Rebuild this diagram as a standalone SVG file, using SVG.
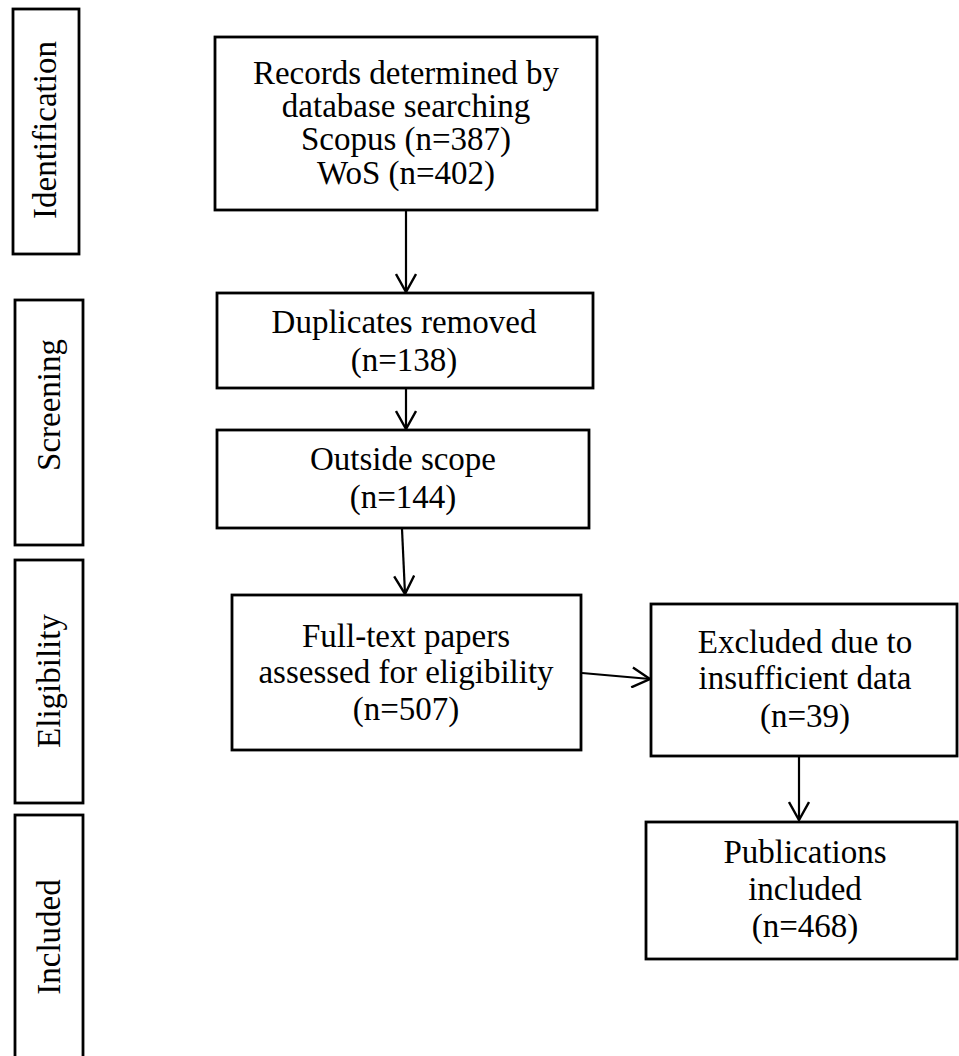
<svg xmlns="http://www.w3.org/2000/svg" width="959" height="1056" viewBox="0 0 959 1056">
<style>
.box{fill:#fff;stroke:#000;stroke-width:2.8}
.t{font-family:"Liberation Serif","Times New Roman",serif;font-size:33px;fill:#000;text-anchor:middle}
.c{fill:none;stroke:#000;stroke-width:2.2}
</style>
<defs>
<marker id="ah" viewBox="0 0 22 22" refX="20" refY="11" markerWidth="22" markerHeight="22" markerUnits="userSpaceOnUse" orient="auto">
<path d="M2,1 L20,11 L2,21" fill="none" stroke="#000" stroke-width="2.4"/>
</marker>
</defs>
<rect width="959" height="1056" fill="#fff"/>
<g id="stage-identification">
<rect class="box" x="13" y="9" width="66" height="245"/>
<text class="t" transform="translate(56,130) rotate(-90)">Identification</text>
</g>
<g id="stage-screening">
<rect class="box" x="15" y="300" width="68" height="245"/>
<text class="t" transform="translate(60,405) rotate(-90)">Screening</text>
</g>
<g id="stage-eligibility">
<rect class="box" x="15" y="560" width="68" height="243"/>
<text class="t" transform="translate(60,681) rotate(-90)">Eligibility</text>
</g>
<g id="stage-included">
<rect class="box" x="15" y="815" width="68" height="260"/>
<text class="t" transform="translate(60,937) rotate(-90)">Included</text>
</g>
<g id="records">
<rect class="box" x="215" y="37" width="382" height="173"/>
<text class="t" x="406" y="84">Records determined by</text>
<text class="t" x="406" y="117">database searching</text>
<text class="t" x="406" y="150">Scopus (n=387)</text>
<text class="t" x="406" y="184">WoS (n=402)</text>
</g>
<g id="duplicates">
<rect class="box" x="217" y="293" width="376" height="95"/>
<text class="t" x="404" y="333">Duplicates removed</text>
<text class="t" x="404" y="371">(n=138)</text>
</g>
<g id="outside">
<rect class="box" x="217" y="430" width="372" height="98"/>
<text class="t" x="403" y="470">Outside scope</text>
<text class="t" x="403" y="508">(n=144)</text>
</g>
<g id="fulltext">
<rect class="box" x="232" y="595" width="349" height="155"/>
<text class="t" x="406" y="647">Full-text papers</text>
<text class="t" x="406" y="683">assessed for eligibility</text>
<text class="t" x="406" y="720">(n=507)</text>
</g>
<g id="excluded">
<rect class="box" x="651" y="604" width="306" height="152"/>
<text class="t" x="805" y="653">Excluded due to</text>
<text class="t" x="805" y="689">insufficient data</text>
<text class="t" x="805" y="727">(n=39)</text>
</g>
<g id="publications">
<rect class="box" x="646" y="822" width="311" height="137"/>
<text class="t" x="805" y="863">Publications</text>
<text class="t" x="805" y="900">included</text>
<text class="t" x="805" y="937">(n=468)</text>
</g>
<g id="connectors">
<line class="c" x1="406" y1="211" x2="406" y2="292" marker-end="url(#ah)"/>
<line class="c" x1="406" y1="389" x2="406" y2="429" marker-end="url(#ah)"/>
<line class="c" x1="402" y1="529" x2="405" y2="594" marker-end="url(#ah)"/>
<line class="c" x1="582" y1="673" x2="650" y2="679" marker-end="url(#ah)"/>
<line class="c" x1="799" y1="757" x2="799" y2="820" marker-end="url(#ah)"/>
</g>
</svg>
